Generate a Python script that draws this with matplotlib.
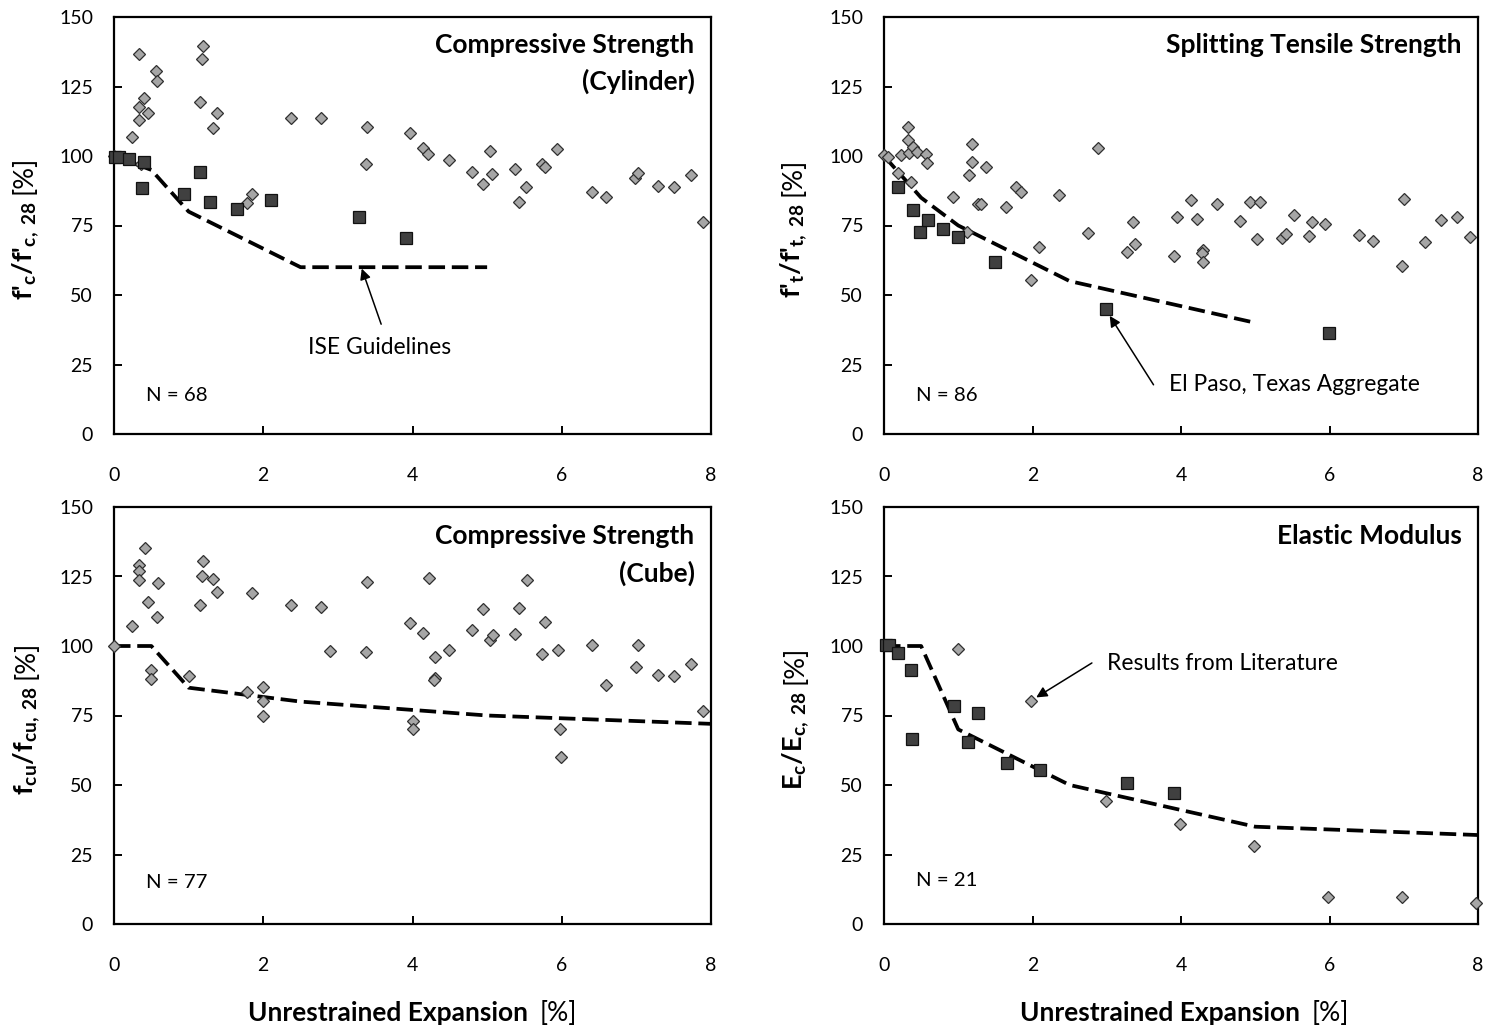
import matplotlib
matplotlib.use("Agg")
import matplotlib.pyplot as plt

plt.rcParams['font.family'] = ['Lato', 'DejaVu Sans']
plt.rcParams['mathtext.fontset'] = 'custom'
plt.rcParams['mathtext.rm'] = 'Lato'
plt.rcParams['mathtext.bf'] = 'Lato:bold'
plt.rcParams['mathtext.it'] = 'Lato:italic'

# ---- data ----
# compressive strength, cylinder
cyl_lit_x = [0, 0.24, 0.33, 0.34, 0.33, 0.40, 0.46, 0.56, 0.58, 0.36,
             1.15, 1.18, 1.19, 1.32, 1.38, 1.78, 1.85, 2.37, 2.77, 3.38,
             3.39, 3.96, 4.14, 4.21, 4.49, 4.80, 4.94, 5.04, 5.07, 5.37,
             5.43, 5.52, 5.74, 5.77, 5.94, 6.40, 6.59, 6.98, 7.02, 7.29,
             7.51, 7.73, 7.89]
cyl_lit_y = [100, 107, 136.8, 112.8, 117.8, 120.8, 115.4, 130.6, 126.8, 97,
             119.6, 134.8, 139.6, 110, 115.4, 83, 86.4, 113.6, 113.8, 97.3,
             110.3, 108.1, 102.8, 100.7, 98.5, 94.2, 89.9, 101.9, 93.7, 95.5,
             83.5, 88.9, 97.1, 96.2, 102.6, 87, 85.4, 92, 93.8, 89.1,
             88.8, 93.2, 76.1]
cyl_ep_x = [0.01, 0.07, 0.20, 0.40, 0.38, 0.94, 1.15, 1.28, 1.65, 2.10, 3.28, 3.91]
cyl_ep_y = [99.8, 99.8, 98.9, 98.0, 88.4, 86.4, 94.1, 83.3, 81.0, 84.2, 78.2, 70.4]
cyl_ise_x = [0, 0.5, 1.0, 2.5, 5.0]
cyl_ise_y = [100, 95, 80, 60, 60]

# splitting tensile strength
ten_lit_x = [0.00, 0.05, 0.23, 0.32, 0.32, 0.33, 0.39, 0.45, 0.56, 0.58,
             0.19, 0.37, 1.19, 1.18, 1.14, 1.37, 0.93, 1.26, 1.30, 1.64,
             1.78, 1.84, 1.12, 2.09, 1.98, 2.36, 2.88, 2.75, 3.27, 3.38,
             3.36, 3.90, 3.95, 4.14, 4.21, 4.29, 4.28, 4.29, 4.48, 4.80,
             4.93, 5.07, 5.03, 5.36, 5.42, 5.52, 5.73, 5.76, 5.94, 6.40,
             6.59, 6.98, 7.01, 7.28, 7.50, 7.72, 7.89]
ten_lit_y = [100.4, 99.8, 100.2, 110.6, 105.6, 101.0, 103.1, 101.4, 100.7, 97.4,
             93.8, 90.8, 104.3, 97.7, 93.0, 96.2, 85.4, 82.7, 82.7, 81.8,
             88.8, 87.2, 72.6, 67.2, 55.5, 85.8, 102.8, 72.2, 65.4, 68.5,
             76.4, 63.9, 77.9, 84.0, 77.4, 66.2, 65.0, 61.7, 82.7, 76.7,
             83.6, 83.3, 70.1, 70.4, 72.0, 78.8, 71.3, 76.4, 75.6, 71.6,
             69.5, 60.3, 84.6, 69.0, 77.0, 78.2, 70.7]
ten_ep_x = [0.19, 0.39, 0.49, 0.59, 0.79, 1.00, 1.49, 2.99, 5.99]
ten_ep_y = [89.0, 80.6, 72.8, 76.8, 73.8, 70.8, 62.0, 44.9, 36.3]
ten_ise_x = [0, 0.5, 1.0, 2.5, 5.0]
ten_ise_y = [100, 85, 75, 55, 40]

# compressive strength, cube
cube_lit_x = [0, 0.24, 0.41, 0.34, 0.33, 0.33, 0.59, 0.46, 0.57, 0.50,
              0.49, 1.19, 1.18, 1.33, 1.38, 1.15, 1.01, 1.85, 1.78, 1.99,
              1.99, 1.99, 2.37, 2.77, 2.89, 3.39, 3.38, 3.96, 4.00, 4.00,
              4.14, 4.22, 4.30, 4.30, 4.29, 4.49, 4.80, 4.94, 5.04, 5.08,
              5.37, 5.43, 5.53, 5.77, 5.74, 5.95, 5.98, 5.99, 6.40, 6.59,
              6.99, 7.02, 7.29, 7.51, 7.73, 7.89]
cube_lit_y = [99.9, 107.1, 135.2, 129.2, 126.8, 123.6, 122.8, 115.7, 110.4, 91.3,
              88.2, 130.7, 125.0, 124.0, 119.6, 114.8, 89.1, 119.0, 83.4, 85.2,
              80.1, 74.8, 114.6, 114.0, 98.3, 123.0, 97.7, 108.3, 73.2, 70.0,
              104.7, 124.4, 96.0, 88.5, 87.6, 98.7, 105.9, 113.3, 102.3, 104.1,
              104.4, 113.6, 123.8, 108.5, 97.2, 98.7, 70.2, 60.2, 100.2, 85.8,
              92.5, 100.2, 89.5, 89.1, 93.7, 76.6]
cube_ise_x = [0, 0.5, 1.0, 2.5, 5.0, 8.0]
cube_ise_y = [100, 100, 85, 80, 75, 72]

# elastic modulus
mod_lit_x = [0.99, 1.98, 2.99, 3.98, 4.98, 5.98, 6.98, 7.97]
mod_lit_y = [99.0, 80.1, 44.3, 35.9, 28.1, 9.8, 9.8, 7.4]
mod_ep_x = [0.03, 0.07, 0.19, 0.37, 0.38, 0.94, 1.13, 1.26, 1.65, 2.10, 3.27, 3.91]
mod_ep_y = [100.2, 100.2, 97.5, 91.3, 66.4, 78.3, 65.4, 76.0, 58.0, 55.3, 50.6, 47.2]
mod_ise_x = [0, 0.5, 1.0, 2.5, 5.0, 8.0]
mod_ise_y = [100, 100, 70, 50, 35, 32]

W, H = 1493, 1032
fig = plt.figure(figsize=(W / 100, H / 100), dpi=100)


def make_ax(left, right, top, bottom):
    ax = fig.add_axes([left / W, 1 - bottom / H, (right - left) / W, (bottom - top) / H])
    ax.set_xlim(0, 8)
    ax.set_ylim(0, 150)
    ax.set_xticks([0, 2, 4, 6, 8])
    ax.set_yticks([0, 25, 50, 75, 100, 125, 150])
    ax.tick_params(direction='in', length=6, width=1.4, labelsize=14,
                   top=False, right=False, colors='black')
    ax.tick_params(axis='y', pad=15)
    ax.tick_params(axis='x', pad=24)
    for s in ax.spines.values():
        s.set_linewidth(1.6)
    return ax


def plot_panel(ax, lx, ly, ex, ey, gx, gy):
    ax.plot(gx, gy, color='black', lw=2.7, dashes=(4.4, 1.8), zorder=2,
            solid_capstyle='butt', dash_capstyle='butt')
    ax.plot(lx, ly, ls='none', marker='D', ms=6.4, mfc='#a6a6a6', mec='#303030',
            mew=0.9, zorder=3, clip_on=False)
    if ex is not None:
        ax.plot(ex, ey, ls='none', marker='s', ms=9, mfc='#404040', mec='#111111',
                mew=0.9, zorder=4, clip_on=False)


def title(ax, lines, ys):
    for s, y in zip(lines, ys):
        ax.text(7.78, y, s, ha='right', va='center', fontsize=19, fontweight='bold')


ax1 = make_ax(114, 711, 17, 434)
ax2 = make_ax(884, 1478, 17, 434)
ax3 = make_ax(114, 711, 507, 924)
ax4 = make_ax(884, 1478, 507, 924)

plot_panel(ax1, cyl_lit_x, cyl_lit_y, cyl_ep_x, cyl_ep_y, cyl_ise_x, cyl_ise_y)
plot_panel(ax2, ten_lit_x, ten_lit_y, ten_ep_x, ten_ep_y, ten_ise_x, ten_ise_y)
plot_panel(ax3, cube_lit_x, cube_lit_y, None, None, cube_ise_x, cube_ise_y)
plot_panel(ax4, mod_lit_x, mod_lit_y, mod_ep_x, mod_ep_y, mod_ise_x, mod_ise_y)

title(ax1, ['Compressive Strength', '(Cylinder)'], [140, 126.8])
title(ax2, ['Splitting Tensile Strength'], [140])
title(ax3, ['Compressive Strength', '(Cube)'], [139.4, 126.2])
title(ax4, ['Elastic Modulus'], [139.4])

for ax, n, y in [(ax1, 68, 14), (ax2, 86, 14), (ax3, 77, 15), (ax4, 21, 15.5)]:
    ax.text(0.43, y, 'N = %d' % n, ha='left', va='center', fontsize=14.7)

arrow = dict(arrowstyle='-|>', color='black', lw=1.1, mutation_scale=16, shrinkA=0, shrinkB=0)
ax1.annotate('', xy=(3.32, 59.5), xytext=(3.58, 39.5), arrowprops=arrow)
ax1.text(3.56, 31, 'ISE Guidelines', ha='center', va='center', fontsize=16.4)
ax2.annotate('', xy=(3.04, 42.5), xytext=(3.63, 17.7), arrowprops=arrow)
ax2.text(3.84, 17.7, 'El Paso, Texas Aggregate', ha='left', va='center', fontsize=16.4)
ax4.annotate('', xy=(2.05, 81.5), xytext=(2.8, 93.9), arrowprops=arrow)
ax4.text(3.01, 93.6, 'Results from Literature', ha='left', va='center', fontsize=16.4)

# axis labels: bold part plus regular "[%]"
renderer = fig.canvas.get_renderer()


def ylabel(base_x, center_y, bold):
    y0 = H - center_y
    t1 = fig.text(base_x / W, 0, bold, rotation=90, rotation_mode='anchor',
                  ha='left', va='baseline', fontsize=19.5, fontweight='bold')
    t2 = fig.text(base_x / W, 0, '[%]', rotation=90, rotation_mode='anchor',
                  ha='left', va='baseline', fontsize=19.5)
    h1 = t1.get_window_extent(renderer).height
    h2 = t2.get_window_extent(renderer).height
    gap = 7
    start = y0 - (h1 + gap + h2) / 2
    t1.set_y(start / H)
    t2.set_y((start + h1 + gap) / H)


def xlabel(end_x, base_y):
    fig.text(end_x / W, (H - base_y) / H, 'Unrestrained Expansion', ha='right',
             va='baseline', fontsize=19, fontweight='bold')
    fig.text((end_x + 12) / W, (H - base_y) / H, '[%]', ha='left',
             va='baseline', fontsize=19)


ylabel(32, 228, r"f'$_\mathbf{c}$/f'$_\mathbf{c,\ 28}$")
ylabel(800, 228, r"f'$_\mathbf{t}$/f'$_\mathbf{t,\ 28}$")
ylabel(33, 718, r"f$_\mathbf{cu}$/f$_\mathbf{cu,\ 28}$")
ylabel(802, 718, r"E$_\mathbf{c}$/E$_\mathbf{c,\ 28}$")
xlabel(528, 1021)
xlabel(1300, 1021)

fig.savefig('out.png', dpi=100)
